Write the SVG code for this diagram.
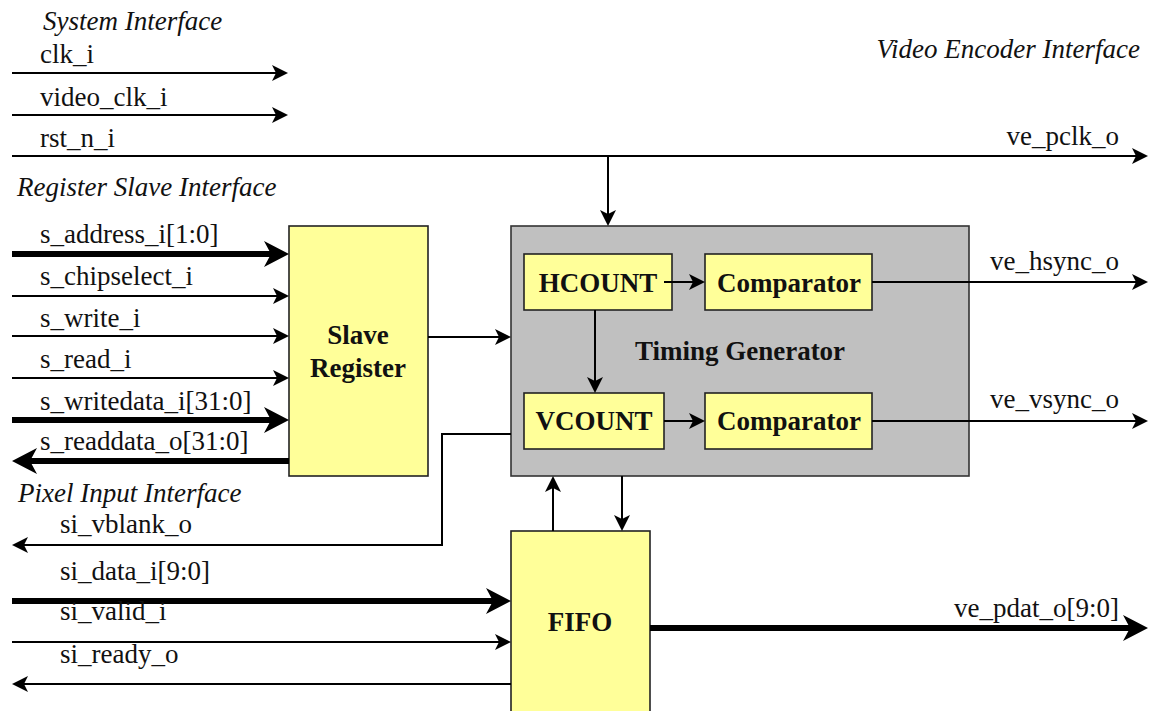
<svg xmlns="http://www.w3.org/2000/svg" width="1149" height="711" viewBox="0 0 1149 711">
<style>
text{font-family:"Liberation Serif",Tinos,"Times New Roman","DejaVu Serif",serif;font-size:27px;fill:#111}
.it{font-style:italic}
.b{font-weight:bold}
.mid{text-anchor:middle}
.end{text-anchor:end}
.box{fill:#FFFF99;stroke:#222;stroke-width:1.6}
.tg{fill:#C0C0C0;stroke:#333;stroke-width:1.6}
.aw{fill:none;stroke:#000;stroke-width:2;marker-end:url(#ah)}
.ab{fill:none;stroke:#000;stroke-width:6;marker-end:url(#ahb)}
</style>
<defs>
<marker id="ah" markerUnits="userSpaceOnUse" viewBox="0 -8 16 16" refX="4" refY="0" markerWidth="16" markerHeight="16" orient="auto">
<path d="M0,-8 L16,0 L0,8 L4,0 Z" fill="#000"/>
</marker>
<marker id="ahb" markerUnits="userSpaceOnUse" viewBox="0 -13 25 26" refX="7" refY="0" markerWidth="25" markerHeight="26" orient="auto">
<path d="M0,-13 L25,0 L0,13 L7,0 Z" fill="#000"/>
</marker>
</defs>
<rect width="1149" height="711" fill="#fff"/>

<g id="interface-labels">
<text class="it" x="43" y="30">System Interface</text>
<text class="it" x="17" y="196">Register Slave Interface</text>
<text class="it" x="18" y="502">Pixel Input Interface</text>
<text class="it end" x="1140" y="58">Video Encoder Interface</text>
</g>

<g id="slave-register">
<rect class="box" x="289" y="226" width="139" height="250"/>
<text class="b mid" x="358" y="344">Slave</text>
<text class="b mid" x="358" y="377">Register</text>
</g>

<g id="timing-generator">
<rect class="tg" x="511" y="226" width="458" height="250"/>
<text class="b mid" x="740" y="360">Timing Generator</text>
</g>
<g id="hcount">
<rect class="box" x="524" y="254" width="148" height="56"/>
<text class="b mid" x="598" y="292">HCOUNT</text>
</g>
<g id="comparator-h">
<rect class="box" x="705" y="254" width="167" height="56"/>
<text class="b mid" x="789" y="292">Comparator</text>
</g>
<g id="vcount">
<rect class="box" x="524" y="393" width="140" height="56"/>
<text class="b mid" x="594" y="430">VCOUNT</text>
</g>
<g id="comparator-v">
<rect class="box" x="705" y="393" width="167" height="56"/>
<text class="b mid" x="789" y="430">Comparator</text>
</g>
<g id="fifo">
<rect class="box" x="511" y="531" width="139" height="190"/>
<text class="b mid" x="580" y="631">FIFO</text>
</g>

<g id="connectors">
<line class="aw" x1="12" y1="73" x2="276" y2="73"/>
<line class="aw" x1="12" y1="115" x2="276" y2="115"/>
<line class="aw" x1="12" y1="156" x2="1136" y2="156"/>
<line class="aw" x1="608" y1="156" x2="608" y2="214"/>
<line class="ab" x1="12" y1="254" x2="271" y2="254"/>
<line class="aw" x1="12" y1="296" x2="277" y2="296"/>
<line class="aw" x1="12" y1="336" x2="277" y2="336"/>
<line class="aw" x1="12" y1="378" x2="277" y2="378"/>
<line class="ab" x1="12" y1="420" x2="271" y2="420"/>
<line class="ab" x1="289" y1="461" x2="30" y2="461"/>
<line class="aw" x1="428" y1="337" x2="499" y2="337"/>
<line class="aw" x1="664" y1="282" x2="693" y2="282"/>
<line class="aw" x1="595" y1="310" x2="595" y2="381"/>
<line class="aw" x1="664" y1="421" x2="693" y2="421"/>
<line class="aw" x1="872" y1="282" x2="1136" y2="282"/>
<line class="aw" x1="872" y1="421" x2="1136" y2="421"/>
<polyline class="aw" points="511,434 442,434 442,545 24,545"/>
<line class="aw" x1="553" y1="531" x2="553" y2="488"/>
<line class="aw" x1="622" y1="476" x2="622" y2="519"/>
<line class="ab" x1="12" y1="601" x2="493" y2="601"/>
<line class="aw" x1="12" y1="642" x2="499" y2="642"/>
<line class="aw" x1="511" y1="684" x2="24" y2="684"/>
<line class="ab" x1="650" y1="628" x2="1130" y2="628"/>
</g>

<g id="signal-labels">
<text x="40" y="63">clk_i</text>
<text x="40" y="106">video_clk_i</text>
<text x="40" y="147">rst_n_i</text>
<text x="40" y="243">s_address_i[1:0]</text>
<text x="40" y="285">s_chipselect_i</text>
<text x="40" y="327">s_write_i</text>
<text x="40" y="368">s_read_i</text>
<text x="40" y="410">s_writedata_i[31:0]</text>
<text x="40" y="450">s_readdata_o[31:0]</text>
<text x="60" y="533">si_vblank_o</text>
<text x="60" y="580">si_data_i[9:0]</text>
<text x="60" y="620">si_valid_i</text>
<text x="60" y="663">si_ready_o</text>
<text class="end" x="1119" y="145">ve_pclk_o</text>
<text class="end" x="1119" y="270">ve_hsync_o</text>
<text class="end" x="1119" y="408">ve_vsync_o</text>
<text class="end" x="1119" y="617">ve_pdat_o[9:0]</text>
</g>
</svg>
